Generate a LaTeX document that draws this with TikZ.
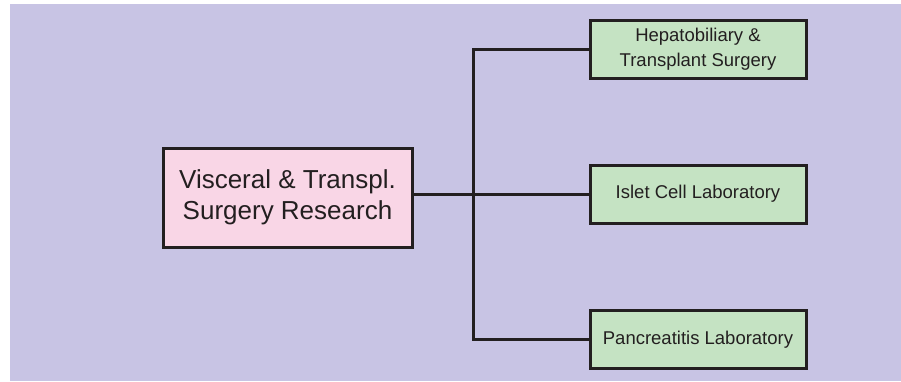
\documentclass[tikz,border=0pt]{standalone}
\usepackage{fontspec}
\setmainfont{Liberation Sans}
\definecolor{bglav}{HTML}{C8C4E4}
\definecolor{rootpink}{HTML}{F9D6E6}
\definecolor{leafgreen}{HTML}{C5E3C3}
\definecolor{inkline}{HTML}{231F20}
\tikzset{
  rootbox/.style={draw=inkline, fill=rootpink, line width=3bp, inner sep=0pt,
    minimum width=249bp, minimum height=99bp, align=center, text=inkline,
    font=\fontsize{26bp}{31bp}\selectfont},
  leafbox/.style={draw=inkline, fill=leafgreen, line width=3bp, inner sep=0pt,
    minimum width=216bp, minimum height=58bp, align=center, text=inkline,
    font=\fontsize{18.5bp}{25bp}\selectfont},
  link/.style={draw=inkline, line width=3bp}
}
\begin{document}
\begin{tikzpicture}[x=1bp, y=-1bp]
  \useasboundingbox (0,0) rectangle (901,381);
  \fill[bglav] (10,4) rectangle (901,381);

  \node[rootbox] (root) at (287.5,197.5) {Visceral \& Transpl.\\Surgery Research};
  \node[leafbox] (hep) at (698,49) {Hepatobiliary \&\\Transplant Surgery};
  \node[leafbox] (islet) at (698,194) {Islet Cell Laboratory};
  \node[leafbox] (panc) at (698,339.5) {Pancreatitis Laboratory};

  \coordinate (trunk) at (473,195);

  \draw[link] (root.east |- islet.west) -- (islet.west);
  \draw[link, line join=miter] (hep.west) -| (trunk) |- (panc.west);
\end{tikzpicture}
\end{document}
